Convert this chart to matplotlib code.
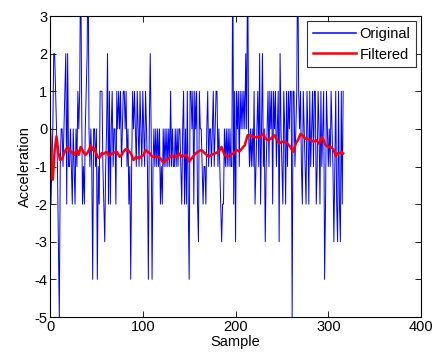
import matplotlib
matplotlib.use("Agg")
import matplotlib.pyplot as plt

plt.rcParams['font.family'] = ['Liberation Sans', 'DejaVu Sans']
plt.rcParams['axes.unicode_minus'] = False

# raw accelerometer samples (integer counts)
original = [
    0, -2, -1, 0, 2, 2, 1, 0, -1, -3,
    -5, -1, 0, 0, -1, 0, 1, 2, -2, 2,
    -1, -1, 0, -1, -2, 0, -1, -2, 0, -1,
    1, 0, 1, 5, 1, -2, -1, -2, 0, 1,
    2, 5, 0, -1, 0, -1, -4, 0, 0, -1,
    0, -4, -1, -2, 1, 1, 1, -1, -2, -3,
    -1, 0, 2, -2, 1, -2, 0, 1, -1, 0,
    0, -2, 1, 0, 1, 0, 1, -1, 0, 1,
    1, 0, 1, -1, 0, -2, -1, -4, -1, 1,
    0, 1, 0, -1, 1, 0, -1, 1, 0, -1,
    1, 0, -1, 1, 0, -1, -4, 0, 2, 0,
    -4, -1, 0, -1, 0, -1, 0, -1, 0, -2,
    -1, -2, 0, -1, 0, -1, 0, -1, 0, -1,
    1, -1, 0, -1, -1, 0, -1, 0, -1, 0,
    0, -1, -2, 0, 1, -2, 0, -2, 1, -2,
    -4, 1, 1, 0, 1, -2, 1, 0, 1, -2,
    -3, 1, 0, 0, -1, -2, -1, -1, -2, 0,
    1, -1, 0, 0, -1, 0, 1, -1, 0, 1,
    1, -1, 0, -1, -2, -3, -2, -2, 0, -1,
    0, -1, 0, -1, 0, -1, -1, 5, -2, 1,
    -3, 1, 0, 1, -1, 1, 0, 1, 0, 1,
    0, 2, 0, 5, 0, -1, 0, -1, 0, -1,
    1, -2, -1, 0, 1, -1, 2, -2, 0, 2,
    -1, 0, -3, -1, 0, 1, -1, 1, 0, 1,
    -2, 1, 0, 1, -1, 0, 1, -3, 2, 0,
    -1, -2, 1, 0, -2, 1, -1, 1, 0, 1,
    1, -5, 1, 1, -1, 0, 1, 5, 1, 0,
    1, -1, -2, 1, 0, -1, -2, 1, 0, -2,
    1, -1, 0, 1, -1, 1, 1, -2, -1, 1,
    0, -2, 1, -1, 0, 1, -4, -2, 1, 0,
    -1, 0, -1, 1, 0, -1, -3, -1, 1, -2,
    -3, 1, -2, -3, 1, -2, 1,
]
sample = list(range(len(original)))

# filtered output, read at roughly every few samples
filt_x = [0, 2, 3, 5, 7, 9, 11, 13, 15, 17, 19, 21, 23, 26, 29, 31, 33, 36, 38, 40,
          42, 44, 46, 48, 51, 53, 56, 58, 61, 63, 65, 68, 70, 72, 75, 77, 79, 81, 83, 85,
          87, 90, 93, 96, 99, 101, 103, 105, 108, 110, 113, 116, 119, 122, 125, 128, 131, 133, 136, 139,
          142, 145, 147, 150, 154, 157, 160, 163, 167, 171, 174, 178, 182, 185, 188, 191, 194, 198, 201, 204,
          207, 210, 211, 213, 216, 220, 223, 227, 230, 232, 235, 238, 242, 244, 247, 250, 253, 256, 259, 262,
          265, 268, 270, 272, 275, 278, 281, 284, 287, 290, 293, 295, 297, 300, 303, 306, 308, 310, 312, 314, 316]
filt_y = [0.0, -1.28, -1.35, -0.56, -0.2, -0.64, -0.83, -0.79, -0.66, -0.55, -0.48, -0.56, -0.61, -0.69, -0.56, -0.69, -0.48, -0.61, -0.69, -0.65,
          -0.56, -0.43, -0.56, -0.52, -0.73, -0.78, -0.64, -0.66, -0.61, -0.7, -0.69, -0.64, -0.62, -0.61, -0.74, -0.7, -0.61, -0.55, -0.53, -0.6,
          -0.64, -0.83, -0.74, -0.78, -0.72, -0.69, -0.56, -0.6, -0.66, -0.74, -0.74, -0.74, -0.78, -0.9, -0.83, -0.78, -0.7, -0.74, -0.74, -0.65,
          -0.74, -0.7, -0.69, -0.87, -0.74, -0.65, -0.6, -0.56, -0.65, -0.74, -0.69, -0.65, -0.6, -0.48, -0.69, -0.74, -0.69, -0.65, -0.56, -0.6,
          -0.52, -0.43, -0.34, -0.17, -0.17, -0.22, -0.22, -0.2, -0.12, -0.26, -0.3, -0.26, -0.17, -0.26, -0.39, -0.34, -0.34, -0.39, -0.48, -0.61,
          -0.39, -0.26, -0.13, -0.17, -0.26, -0.26, -0.3, -0.34, -0.3, -0.39, -0.22, -0.3, -0.43, -0.48, -0.48, -0.56, -0.73, -0.65, -0.65, -0.62, -0.65]

fig = plt.figure(figsize=(4.35, 3.58), dpi=100)
ax = fig.add_axes([0.115, 0.1145, 0.853, 0.8408])

ax.plot(sample, original, color='#0000ff', linewidth=0.7, label='Original')
ax.plot(filt_x, filt_y, color='#ff0000', linewidth=1.8, label='Filtered')

ax.set_xlim(0, 400)
ax.set_ylim(-5, 3)
ax.set_xticks([0, 100, 200, 300, 400])
ax.set_yticks([-5, -4, -3, -2, -1, 0, 1, 2, 3])
ax.tick_params(direction='in', top=True, right=True, length=4, width=0.6, labelsize=10.5, pad=2)
for s in ax.spines.values():
    s.set_linewidth(0.8)

ax.set_xlabel('Sample', fontsize=10.5, labelpad=1)
ax.set_ylabel('Acceleration', fontsize=10.5, labelpad=2)

leg = ax.legend(loc='upper right', fontsize=10.5, frameon=True, fancybox=False,
                borderpad=0.4, handlelength=3.0, handletextpad=0.2, labelspacing=0.45,
                borderaxespad=0.35)
leg.get_frame().set_edgecolor('black')
leg.get_frame().set_linewidth(0.8)
# thin blue handle renders too dark, give it a bit more weight
leg.legend_handles[0].set_linewidth(1.1)

fig.savefig('out.png', dpi=100)
